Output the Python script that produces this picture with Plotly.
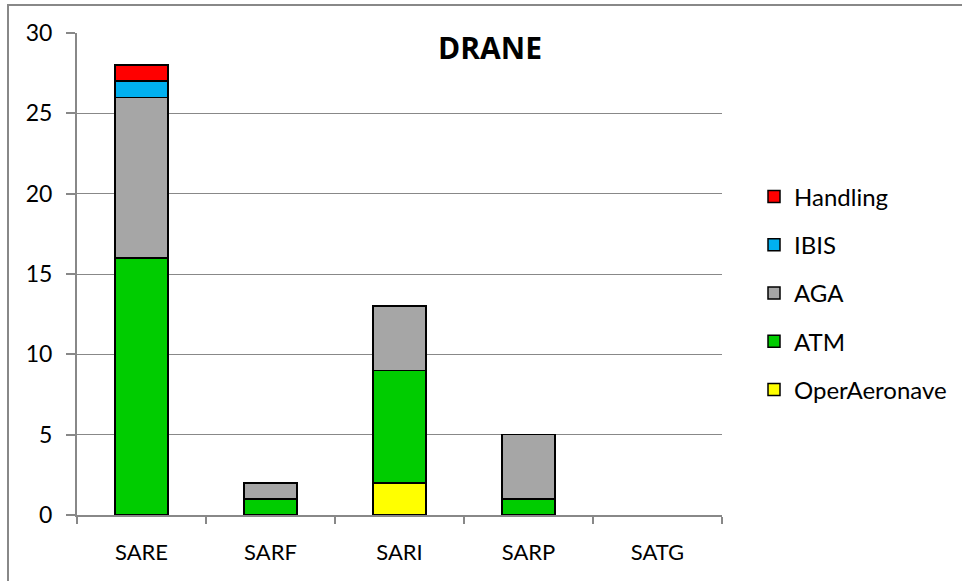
import plotly.graph_objects as go

categories = ["SARE", "SARF", "SARI", "SARP", "SATG"]
oper_aeronave = [0, 0, 2, 0, 0]
atm = [16, 1, 7, 1, 0]
aga = [10, 1, 4, 4, 0]
ibis = [1, 0, 0, 0, 0]
handling = [1, 0, 0, 0, 0]

series = [
    ("OperAeronave", oper_aeronave, "#FFFF00", 5),
    ("ATM", atm, "#00CC00", 4),
    ("AGA", aga, "#A6A6A6", 3),
    ("IBIS", ibis, "#00B0F0", 2),
    ("Handling", handling, "#FF0000", 1),
]

fig = go.Figure()
for name, vals, color, rank in series:
    fig.add_trace(go.Bar(
        x=categories,
        y=[v if v else None for v in vals],
        name=name,
        legendgroup=name,
        legendrank=rank,
        marker=dict(color=color, line=dict(color="black", width=1.5)),
        width=0.41,
    ))

W, H = 962, 581
L, R, T, B = 77, 240, 33, 66
pw, ph = W - L - R, H - T - B

def px_x(p):
    return (p - L) / pw

def px_y(p):
    return (H - B - p) / ph

fig.update_layout(
    width=W, height=H,
    barmode="stack",
    plot_bgcolor="white",
    paper_bgcolor="white",
    margin=dict(l=L, r=R, t=T, b=B, autoexpand=False),
    font=dict(family="Lato, Open Sans, sans-serif", size=22, color="black"),
    title=dict(text="<b>DRANE</b>", x=490 / W, xanchor="center",
               y=1 - 48 / H, yanchor="middle",
               font=dict(size=30, family="Open Sans, sans-serif", color="black")),
    legend=dict(x=px_x(754), xanchor="left", y=px_y(293), yanchor="middle",
                traceorder="grouped", tracegroupgap=14,
                font=dict(size=24), bgcolor="rgba(0,0,0,0)"),
    xaxis=dict(showgrid=False, showline=True, linecolor="#888888", linewidth=2,
               ticks="outside", tickson="boundaries", ticklen=7, tickcolor="#888888",
               tickwidth=1.5, range=[-0.5, 4.5], ticklabelstandoff=17,
               tickfont=dict(size=22)),
    yaxis=dict(range=[0, 30], dtick=5, showgrid=True, gridcolor="#888888", gridwidth=1,
               showline=True, linecolor="#888888", linewidth=2, ticks="outside",
               ticklen=9, tickcolor="#888888", tickwidth=1.5, zeroline=False,
               ticklabelstandoff=9, tickfont=dict(size=23)),
    shapes=[
        dict(type="rect", xref="paper", yref="paper",
             x0=px_x(8), x1=px_x(990), y0=px_y(600), y1=px_y(5),
             line=dict(color="#888888", width=2), fillcolor="rgba(0,0,0,0)",
             layer="above"),
    ],
)

fig.write_html("out.html", config={"displayModeBar": False},
               post_script="document.body.style.margin='0';")
